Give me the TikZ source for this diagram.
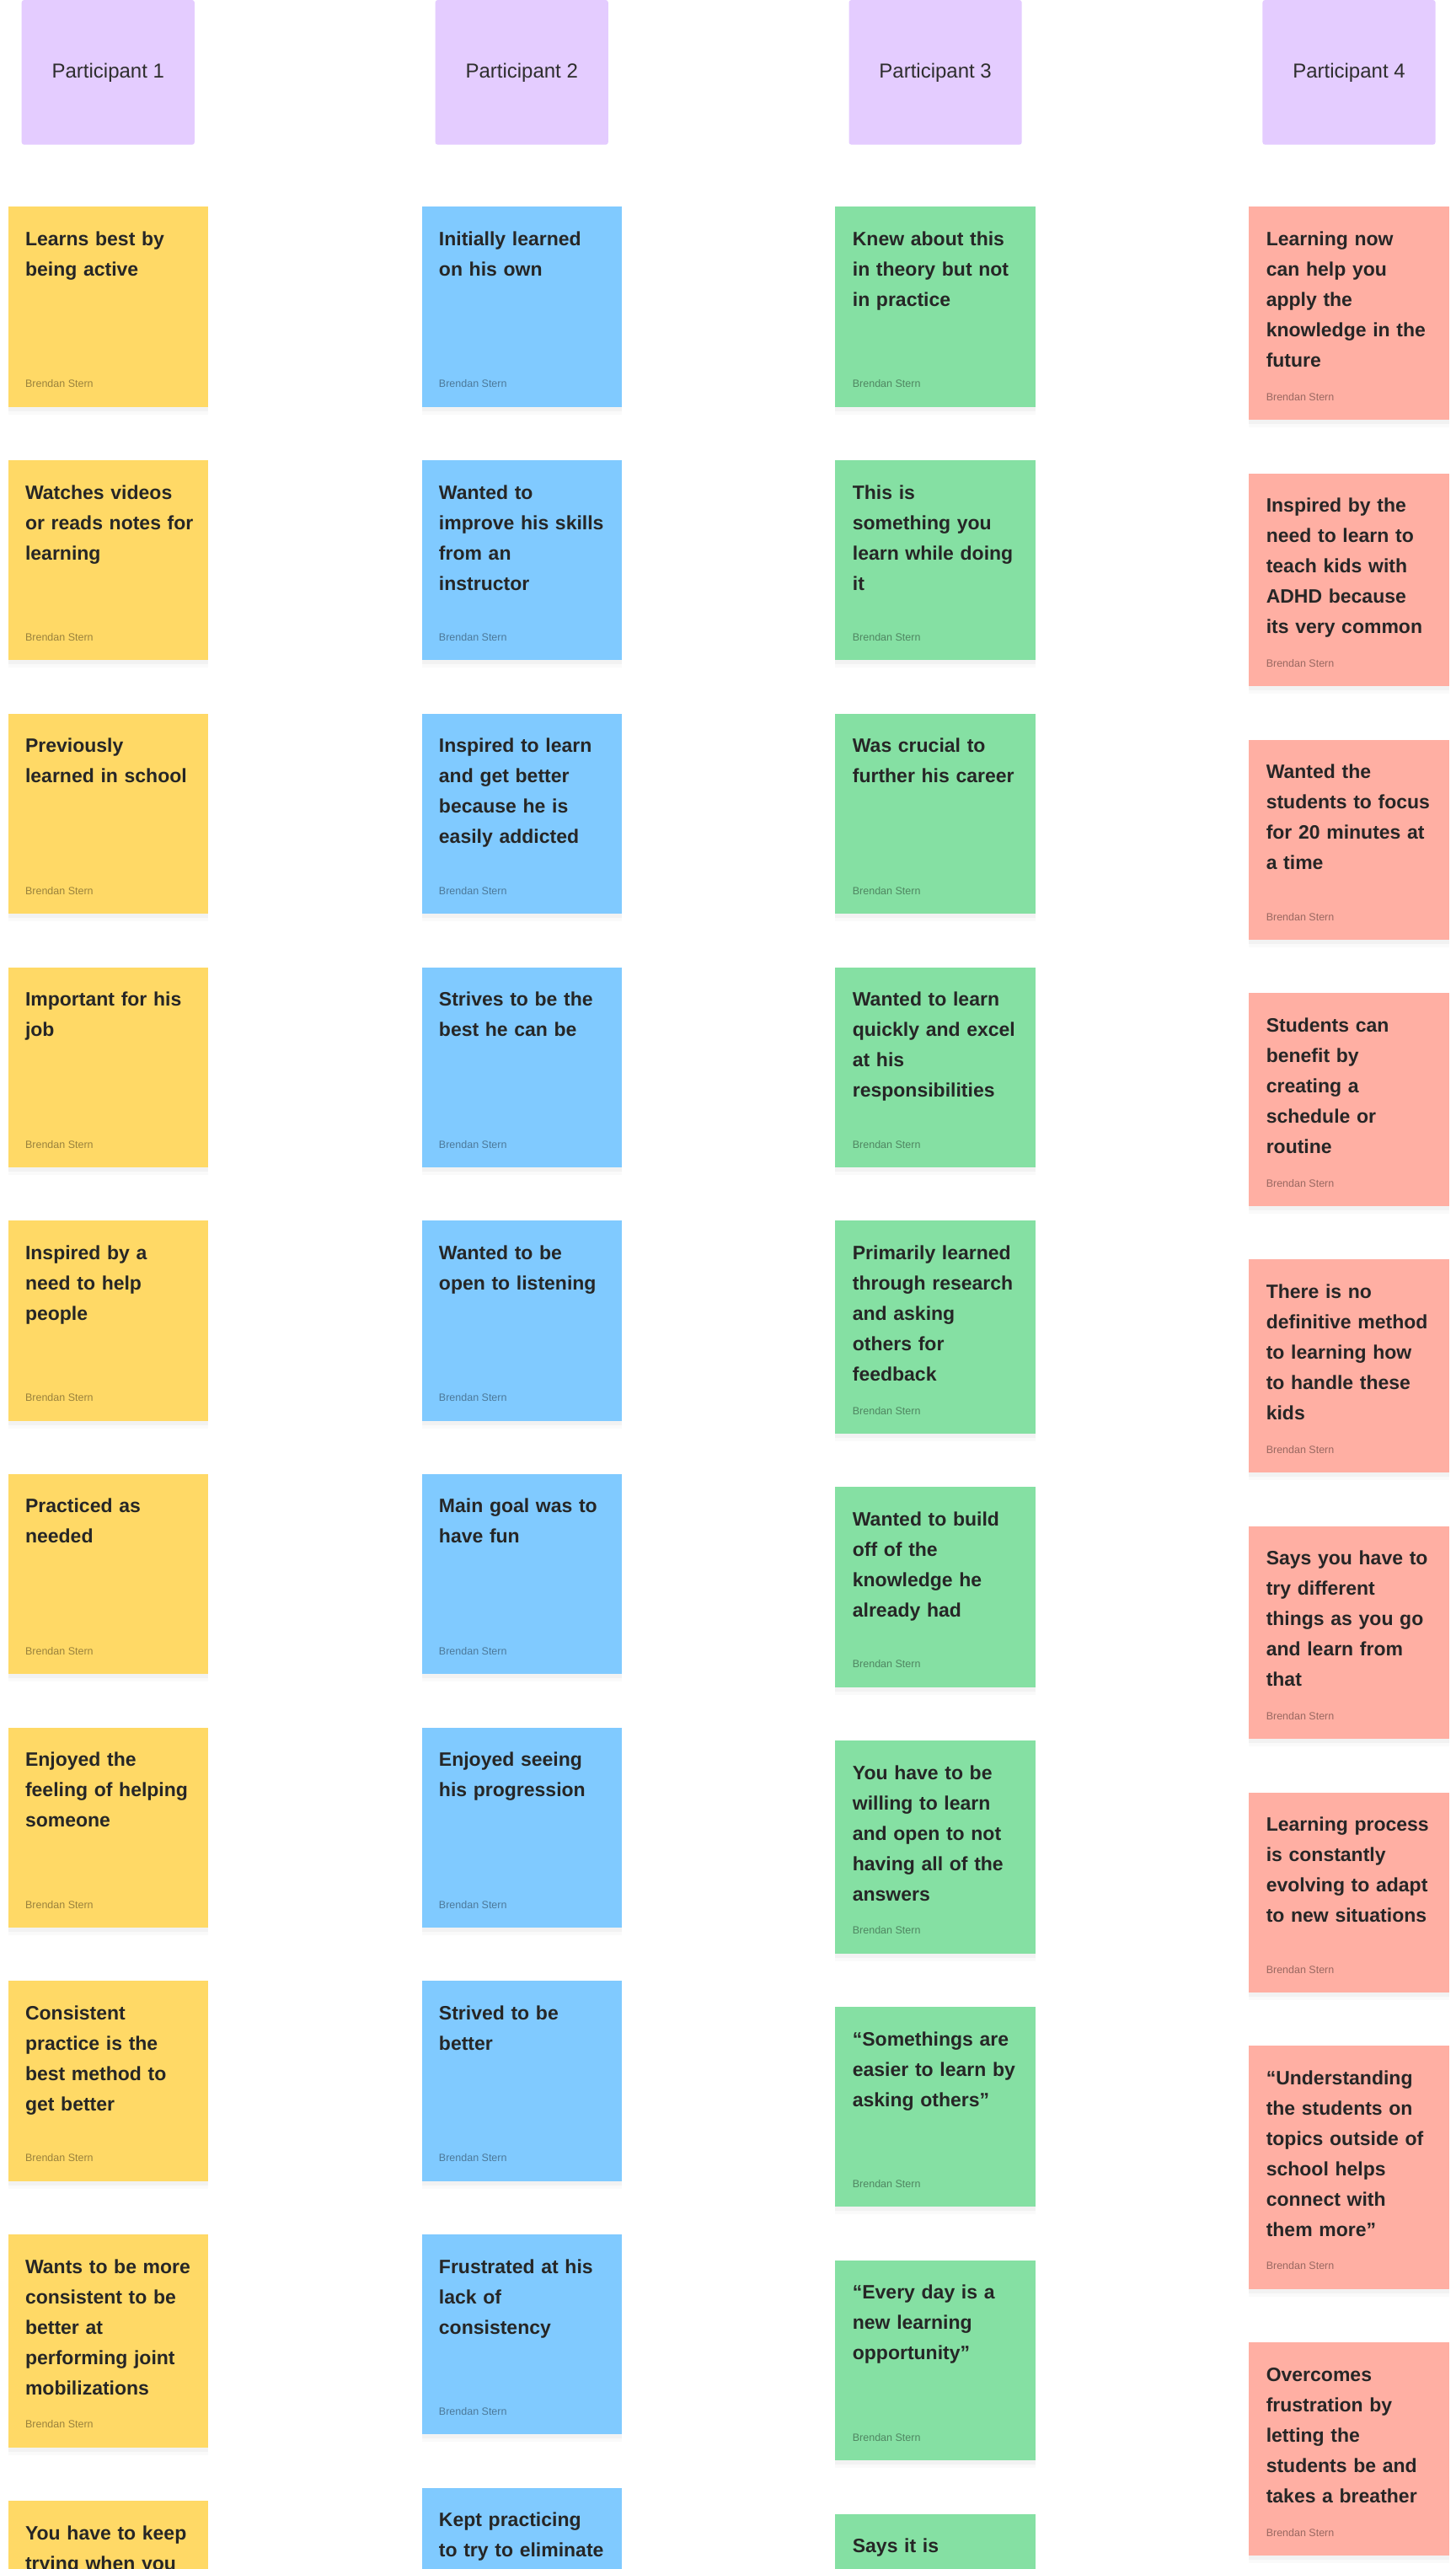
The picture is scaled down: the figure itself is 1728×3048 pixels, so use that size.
\documentclass[tikz,border=0pt]{standalone}
\usepackage{fontspec}
\setmainfont{Liberation Sans}
\usepackage{xcolor}
\usetikzlibrary{positioning, shadows}

\definecolor{headerviolet}{HTML}{E4CCFF}
\definecolor{stickyyellow}{HTML}{FFD966}
\definecolor{stickyblue}{HTML}{80CAFF}
\definecolor{stickygreen}{HTML}{85E0A3}
\definecolor{stickyred}{HTML}{FFAFA3}

\begin{document}
\begin{tikzpicture}[
    x=1pt, y=1pt,
    node distance=63pt,
    header/.style={rectangle, rounded corners=3pt, fill=headerviolet, minimum width=205.2pt, minimum height=171.7pt, inner sep=0pt,
        font=\fontsize{24}{29}\selectfont, text=black!82},
    note/.style={rectangle, fill=#1, text width=196.5pt, inner xsep=20.4pt, inner ysep=0pt, text height=46pt, text depth=191.3pt,
        font=\fontsize{23}{36}\selectfont\bfseries, text=black!85,
        execute at begin node={\rightskip=0pt minus 40pt\relax},
        drop shadow={shadow xshift=0pt, shadow yshift=-9pt, opacity=0.035},
        drop shadow={shadow xshift=0pt, shadow yshift=-5pt, opacity=0.06}},
    sticky/.style={note=#1, label={[author]south west:Brendan Stern}},
    author/.style={anchor=base west, xshift=20.4pt, yshift=23pt, inner sep=0pt,
        font=\fontsize{12.5}{15}\selectfont, text=black, text opacity=0.4},
    five/.style={text depth=206.7pt},
    six/.style={text depth=242.4pt}
]
    \path[use as bounding box, fill=white] (0,0) rectangle (1728,-3048);

    % headers
    \node[header] (h1) at (128.3,-85.85) {Participant 1};
    \node[header, right=285.3pt of h1] (h2) {Participant 2};
    \node[header, right=285.3pt of h2] (h3) {Participant 3};
    \node[header, right=285.3pt of h3] (h4) {Participant 4};

    % participant 1
    \node[sticky=stickyyellow, below=73.3pt of h1] (a1) {Learns best by\\being active};
    \node[sticky=stickyyellow, below=of a1] (a2) {Watches videos\\or reads notes for\\learning};
    \node[sticky=stickyyellow, below=of a2] (a3) {Previously\\learned in school};
    \node[sticky=stickyyellow, below=of a3] (a4) {Important for his\\job};
    \node[sticky=stickyyellow, below=of a4] (a5) {Inspired by a\\need to help\\people};
    \node[sticky=stickyyellow, below=of a5] (a6) {Practiced as\\needed};
    \node[sticky=stickyyellow, below=of a6] (a7) {Enjoyed the\\feeling of helping\\someone};
    \node[sticky=stickyyellow, below=of a7] (a8) {Consistent\\practice is the\\best method to\\get better};
    \node[sticky=stickyyellow, five, below=of a8] (a9) {Wants to be more\\consistent to be\\better at\\performing joint\\mobilizations};
    \node[note=stickyyellow, below=of a9] (a10) {You have to keep\\trying when you};

    % participant 2
    \node[sticky=stickyblue, below=73.3pt of h2] (b1) {Initially learned\\on his own};
    \node[sticky=stickyblue, below=of b1] (b2) {Wanted to\\improve his skills\\from an\\instructor};
    \node[sticky=stickyblue, below=of b2] (b3) {Inspired to learn\\and get better\\because he is\\easily addicted};
    \node[sticky=stickyblue, below=of b3] (b4) {Strives to be the\\best he can be};
    \node[sticky=stickyblue, below=of b4] (b5) {Wanted to be\\open to listening};
    \node[sticky=stickyblue, below=of b5] (b6) {Main goal was to\\have fun};
    \node[sticky=stickyblue, below=of b6] (b7) {Enjoyed seeing\\his progression};
    \node[sticky=stickyblue, below=of b7] (b8) {Strived to be\\better};
    \node[sticky=stickyblue, below=of b8] (b9) {Frustrated at his\\lack of\\consistency};
    \node[note=stickyblue, below=of b9] (b10) {Kept practicing\\to try to eliminate};

    % participant 3
    \node[sticky=stickygreen, below=73.3pt of h3] (c1) {Knew about this\\in theory but not\\in practice};
    \node[sticky=stickygreen, below=of c1] (c2) {This is\\something you\\learn while doing\\it};
    \node[sticky=stickygreen, below=of c2] (c3) {Was crucial to\\further his career};
    \node[sticky=stickygreen, below=of c3] (c4) {Wanted to learn\\quickly and excel\\at his\\responsibilities};
    \node[sticky=stickygreen, five, below=of c4] (c5) {Primarily learned\\through research\\and asking\\others for\\feedback};
    \node[sticky=stickygreen, below=of c5] (c6) {Wanted to build\\off of the\\knowledge he\\already had};
    \node[sticky=stickygreen, five, below=of c6] (c7) {You have to be\\willing to learn\\and open to not\\having all of the\\answers};
    \node[sticky=stickygreen, below=of c7] (c8) {“Somethings are\\easier to learn by\\asking others”};
    \node[sticky=stickygreen, below=of c8] (c9) {“Every day is a\\new learning\\opportunity”};
    \node[note=stickygreen, below=of c9] (c10) {Says it is};

    % participant 4
    \node[sticky=stickyred, five, below=73.3pt of h4] (d1) {Learning now\\can help you\\apply the\\knowledge in the\\future};
    \node[sticky=stickyred, five, below=of d1] (d2) {Inspired by the\\need to learn to\\teach kids with\\ADHD because\\its very common};
    \node[sticky=stickyred, below=of d2] (d3) {Wanted the\\students to focus\\for 20 minutes at\\a time};
    \node[sticky=stickyred, five, below=of d3] (d4) {Students can\\benefit by\\creating a\\schedule or\\routine};
    \node[sticky=stickyred, five, below=of d4] (d5) {There is no\\definitive method\\to learning how\\to handle these\\kids};
    \node[sticky=stickyred, five, below=of d5] (d6) {Says you have to\\try different\\things as you go\\and learn from\\that};
    \node[sticky=stickyred, below=of d6] (d7) {Learning process\\is constantly\\evolving to adapt\\to new situations};
    \node[sticky=stickyred, six, below=of d7] (d8) {“Understanding\\the students on\\topics outside of\\school helps\\connect with\\them more”};
    \node[sticky=stickyred, five, below=of d8] (d9) {Overcomes\\frustration by\\letting the\\students be and\\takes a breather};
\end{tikzpicture}
\end{document}
